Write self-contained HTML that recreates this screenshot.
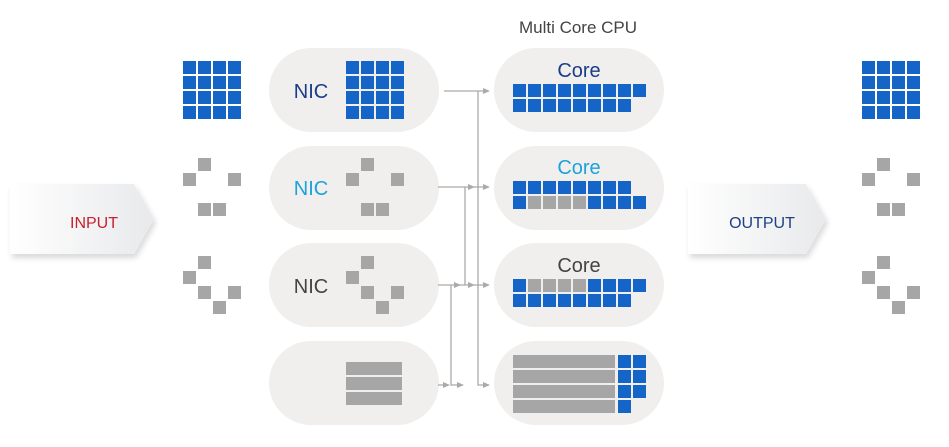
<!DOCTYPE html>
<html><head><meta charset="utf-8"><style>
html,body{margin:0;padding:0;background:#fff;width:949px;height:447px;overflow:hidden}
text{font-family:"Liberation Sans",sans-serif}
</style></head><body>
<svg width="949" height="447" viewBox="0 0 949 447" xmlns="http://www.w3.org/2000/svg">
<defs>
<rect id="b" width="13" height="13" fill="#1565c8"/>
<rect id="g" width="13" height="13" fill="#a6a6a6"/>
<g id="grid">
<use href="#b" x="0" y="0"/><use href="#b" x="15" y="0"/><use href="#b" x="30" y="0"/><use href="#b" x="45" y="0"/>
<use href="#b" x="0" y="15"/><use href="#b" x="15" y="15"/><use href="#b" x="30" y="15"/><use href="#b" x="45" y="15"/>
<use href="#b" x="0" y="30"/><use href="#b" x="15" y="30"/><use href="#b" x="30" y="30"/><use href="#b" x="45" y="30"/>
<use href="#b" x="0" y="45"/><use href="#b" x="15" y="45"/><use href="#b" x="30" y="45"/><use href="#b" x="45" y="45"/>
</g>
<g id="d1"><use href="#g" x="15" y="0"/><use href="#g" x="0" y="15"/><use href="#g" x="45" y="15"/><use href="#g" x="15" y="45"/><use href="#g" x="30" y="45"/></g>
<g id="d2"><use href="#g" x="15" y="0"/><use href="#g" x="0" y="15"/><use href="#g" x="15" y="30"/><use href="#g" x="45" y="30"/><use href="#g" x="30" y="45"/></g>
<linearGradient id="ag" x1="0" x2="1"><stop offset="0" stop-color="#fff"/><stop offset="1" stop-color="#e8e9eb"/></linearGradient>
<filter id="sh" x="-10%" y="-20%" width="130%" height="150%"><feDropShadow dx="2" dy="4" stdDeviation="3" flood-color="#000" flood-opacity="0.15"/></filter>
<path id="ah" d="M0,-3 L7,0 L0,3 Z" fill="#aaa"/>
</defs>

<!-- input/output arrows -->
<path d="M10,184 L134,184 L154,219 L134,254 L10,254 Z" fill="url(#ag)" filter="url(#sh)"/>
<text x="94" y="228" font-size="16" fill="#c8202f" text-anchor="middle">INPUT</text>
<path d="M688,184 L806,184 L826,219 L806,254 L688,254 Z" fill="url(#ag)" filter="url(#sh)"/>
<text x="762" y="228" font-size="16" fill="#1f3f85" text-anchor="middle">OUTPUT</text>

<!-- left / right packets -->
<use href="#grid" x="183" y="61"/><use href="#d1" x="183" y="158"/><use href="#d2" x="183" y="256"/>
<use href="#grid" x="862" y="61"/><use href="#d1" x="862" y="158"/><use href="#d2" x="862" y="256"/>

<!-- NIC pills -->
<rect x="269" y="48" width="170" height="84" rx="42" fill="#f0efee"/>
<rect x="269" y="146" width="170" height="84" rx="42" fill="#f0efee"/>
<rect x="269" y="243" width="170" height="84" rx="42" fill="#f0efee"/>
<rect x="269" y="341" width="170" height="84" rx="42" fill="#f0efee"/>
<text x="311" y="98" font-size="20" fill="#1a3d8a" text-anchor="middle">NIC</text>
<text x="311" y="195" font-size="20" fill="#1aa3dc" text-anchor="middle">NIC</text>
<text x="311" y="293" font-size="20" fill="#444" text-anchor="middle">NIC</text>
<use href="#grid" x="346" y="61"/><use href="#d1" x="346" y="158"/><use href="#d2" x="346" y="256"/>
<rect x="346" y="362" width="56" height="13" fill="#a6a6a6"/>
<rect x="346" y="377" width="56" height="13" fill="#a6a6a6"/>
<rect x="346" y="392" width="56" height="13" fill="#a6a6a6"/>

<!-- Core pills -->
<text x="578" y="33" font-size="17" fill="#444" text-anchor="middle">Multi Core CPU</text>
<rect x="494" y="48" width="170" height="84" rx="42" fill="#f0efee"/>
<rect x="494" y="146" width="170" height="84" rx="42" fill="#f0efee"/>
<rect x="494" y="243" width="170" height="84" rx="42" fill="#f0efee"/>
<rect x="494" y="341" width="170" height="84" rx="42" fill="#f0efee"/>
<text x="579" y="77" font-size="20" fill="#1a3d8a" text-anchor="middle">Core</text>
<text x="579" y="174" font-size="20" fill="#1aa3dc" text-anchor="middle">Core</text>
<text x="579" y="272" font-size="20" fill="#444" text-anchor="middle">Core</text>
<!-- core1 -->
<g transform="translate(513,84)">
<use href="#b" x="0"/><use href="#b" x="15"/><use href="#b" x="30"/><use href="#b" x="45"/><use href="#b" x="60"/><use href="#b" x="75"/><use href="#b" x="90"/><use href="#b" x="105"/><use href="#b" x="120"/>
<use href="#b" x="0" y="15"/><use href="#b" x="15" y="15"/><use href="#b" x="30" y="15"/><use href="#b" x="45" y="15"/><use href="#b" x="60" y="15"/><use href="#b" x="75" y="15"/><use href="#b" x="90" y="15"/><use href="#b" x="105" y="15"/>
</g>
<!-- core2 -->
<g transform="translate(513,181)">
<use href="#b" x="0"/><use href="#b" x="15"/><use href="#b" x="30"/><use href="#b" x="45"/><use href="#b" x="60"/><use href="#b" x="75"/><use href="#b" x="90"/><use href="#b" x="105"/>
<use href="#b" x="0" y="15"/><use href="#g" x="15" y="15"/><use href="#g" x="30" y="15"/><use href="#g" x="45" y="15"/><use href="#g" x="60" y="15"/><use href="#b" x="75" y="15"/><use href="#b" x="90" y="15"/><use href="#b" x="105" y="15"/><use href="#b" x="120" y="15"/>
</g>
<!-- core3 -->
<g transform="translate(513,279)">
<use href="#b" x="0"/><use href="#g" x="15"/><use href="#g" x="30"/><use href="#g" x="45"/><use href="#g" x="60"/><use href="#b" x="75"/><use href="#b" x="90"/><use href="#b" x="105"/><use href="#b" x="120"/>
<use href="#b" x="0" y="15"/><use href="#b" x="15" y="15"/><use href="#b" x="30" y="15"/><use href="#b" x="45" y="15"/><use href="#b" x="60" y="15"/><use href="#b" x="75" y="15"/><use href="#b" x="90" y="15"/><use href="#b" x="105" y="15"/>
</g>
<!-- core4 -->
<g transform="translate(513,355)">
<rect x="0" y="0" width="102" height="13" fill="#a6a6a6"/><rect x="0" y="15" width="102" height="13" fill="#a6a6a6"/>
<rect x="0" y="30" width="102" height="13" fill="#a6a6a6"/><rect x="0" y="45" width="102" height="13" fill="#a6a6a6"/>
<use href="#b" x="105"/><use href="#b" x="120"/><use href="#b" x="105" y="15"/><use href="#b" x="120" y="15"/>
<use href="#b" x="105" y="30"/><use href="#b" x="120" y="30"/><use href="#b" x="105" y="45"/>
</g>

<!-- connectors -->
<g stroke="#aaa" stroke-width="1.3" fill="none">
<path d="M444,91 H488"/>
<path d="M478,91 V385 H488"/>
<path d="M438,187 H488"/>
<path d="M465,187 V285"/>
<path d="M438,285 H488"/>
<path d="M451,285 V385 H462"/>
<path d="M438,385 H447"/>
</g>
<use href="#ah" x="483" y="91"/>
<use href="#ah" x="468" y="187"/><use href="#ah" x="483" y="187"/>
<use href="#ah" x="454" y="285"/><use href="#ah" x="468" y="285"/><use href="#ah" x="483" y="285"/>
<use href="#ah" x="443" y="385"/><use href="#ah" x="457" y="385"/><use href="#ah" x="483" y="385"/>
</svg>
</body></html>
